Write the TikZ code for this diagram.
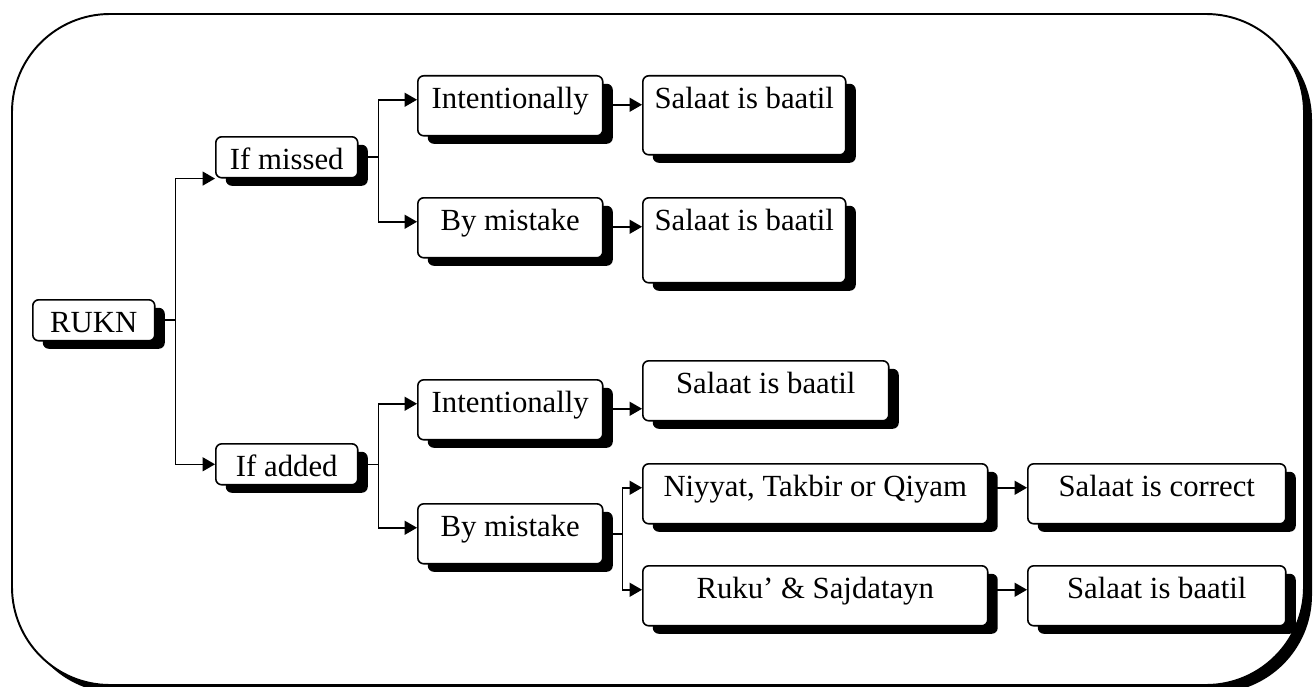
\documentclass[tikz,border=0pt]{standalone}
\usepackage{fontspec}
\setmainfont{Liberation Serif}
\usepackage{tikz}
\usetikzlibrary{arrows}
\usetikzlibrary{shadows}
\tikzset{%
  myedge/.style={->, line width=0.9pt, >=triangle 60},
  mybox/.style={draw=black, line width=0.9pt, fill=white, rounded corners=0.12cm,
    anchor=north west, inner sep=0pt, align=center,
    text height=0.66cm, text depth=0.16cm,
    font=\fontsize{17.5}{21}\selectfont,
    drop shadow={shadow xshift=0.2cm, shadow yshift=-0.16cm, opacity=1, fill=black}},
  myframe/.style={draw=black, line width=1.1pt, fill=white, rounded corners=1.96cm,
    drop shadow={shadow xshift=0.16cm, shadow yshift=-0.16cm, opacity=1, fill=black}}
}

\begin{document}
\begin{tikzpicture}[x=0.02cm, y=-0.02cm]
\useasboundingbox (0,0) rectangle (1314,686);

% frame
\path [myframe] (12,14) rectangle (1304,685);

\node (rukn)   [mybox, minimum width=2.44cm] at (32,299) {RUKN};

\node (missed) [mybox, minimum width=2.84cm] at (215,136) {If missed};
\node (added)  [mybox, minimum width=2.84cm] at (215,443) {If added};

\node (int1) [mybox, minimum width=3.7cm, text depth=0.54cm] at (417,75) {Intentionally};
\node (bym1) [mybox, minimum width=3.7cm, text depth=0.54cm] at (417,197) {By mistake};
\node (int2) [mybox, minimum width=3.7cm, text depth=0.54cm] at (417,379) {Intentionally};
\node (bym2) [mybox, minimum width=3.7cm, text depth=0.54cm] at (417,503) {By mistake};

\node (sal1) [mybox, minimum width=4.06cm, text depth=0.92cm] at (642,75) {Salaat is baatil};
\node (sal2) [mybox, minimum width=4.06cm, text depth=1.04cm] at (642,197) {Salaat is baatil};
\node (sal3) [mybox, minimum width=4.92cm, text depth=0.54cm] at (642,360) {Salaat is baatil};

\node (niy)  [mybox, minimum width=6.9cm, text depth=0.54cm] at (642,463) {Niyyat, Takbir or Qiyam};
\node (ruku) [mybox, minimum width=6.9cm, text depth=0.54cm] at (642,565) {Ruku’ \& Sajdatayn};

\node (cor)  [mybox, minimum width=5.16cm, text depth=0.54cm] at (1027,463) {Salaat is correct};
\node (sal4) [mybox, minimum width=5.16cm, text depth=0.54cm] at (1027,565) {Salaat is baatil};

% branches
\draw [myedge] (rukn.east) -- ++(20,0) |- (missed.south west);
\draw [myedge] (rukn.east) -- ++(20,0) |- (added.west);

\draw [myedge] (missed.east) -- ++(20,0) |- ([yshift=0.1cm]int1.mid west);
\draw [myedge] (missed.east) -- ++(20,0) |- ([yshift=0.1cm]bym1.mid west);
\draw [myedge] (added.east) -- ++(20,0) |- ([yshift=0.1cm]int2.mid west);
\draw [myedge] (added.east) -- ++(20,0) |- ([yshift=0.1cm]bym2.mid west);

\draw [myedge] (bym2.east) -- ++(19,0) |- ([yshift=0.1cm]niy.mid west);
\draw [myedge] (bym2.east) -- ++(19,0) |- ([yshift=0.1cm]ruku.mid west);

\draw [myedge] (int1.mid east) -- (sal1.west |- int1.mid east);
\draw [myedge] (bym1.mid east) -- (sal2.west |- bym1.mid east);
\draw [myedge] (int2.mid east) -- (sal3.west |- int2.mid east);
\draw [myedge] ([yshift=0.1cm]niy.mid east) -- ([yshift=0.1cm]niy.mid east -| cor.west);
\draw [myedge] ([yshift=0.1cm]ruku.mid east) -- ([yshift=0.1cm]ruku.mid east -| sal4.west);
\end{tikzpicture}
\end{document}
